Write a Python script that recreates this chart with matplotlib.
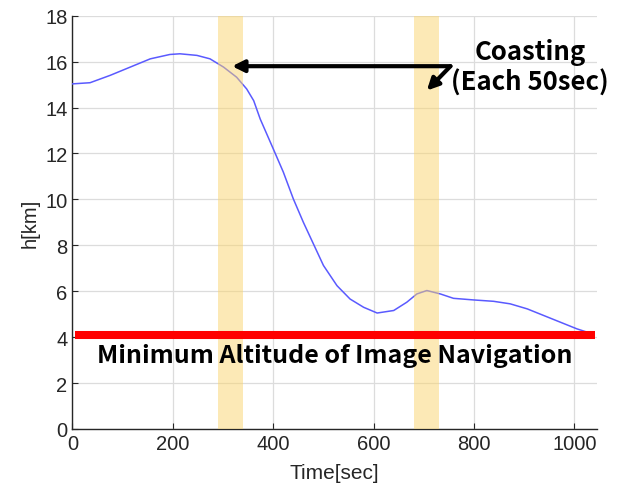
import matplotlib
matplotlib.use("Agg")
import matplotlib.pyplot as plt

# Altitude profile
time_sec = [0, 35, 75, 115, 155, 194, 214, 248, 274, 301, 327, 347, 361,
            374, 400, 420, 440, 460, 480, 500, 527, 553, 580, 607, 640, 666,
            686, 706, 733, 759, 799, 839, 872, 906, 939, 972, 1005, 1022]
h_km = [15.03, 15.08, 15.4, 15.76, 16.12, 16.31, 16.34, 16.27, 16.12, 15.76,
        15.32, 14.81, 14.3, 13.5, 12.2, 11.19, 10.02, 9.0, 8.06, 7.12, 6.24,
        5.66, 5.3, 5.05, 5.16, 5.52, 5.88, 6.03, 5.88, 5.69, 5.62, 5.56,
        5.45, 5.23, 4.94, 4.65, 4.36, 4.24]

coast_windows = [(290, 340), (680, 730)]
min_altitude = 4.1
xticks = [0, 200, 400, 600, 800, 1000]
yticks = [0, 2, 4, 6, 8, 10, 12, 14, 16, 18]

tick_font = ['Liberation Sans', 'DejaVu Sans']
note_font = ['Noto Sans CJK JP', 'DejaVu Sans']
dark = '#262626'

fig = plt.figure(figsize=(6.21, 4.89), dpi=100)
ax = fig.add_axes([0.1167, 0.1207, 0.8447, 0.8452])

ax.plot(time_sec, h_km, color='#5a5aff', lw=1.1, zorder=3)

# coasting windows, drawn over the line with alpha
for t0, t1 in coast_windows:
    ax.axvspan(t0, t1, color='#fbd56e', alpha=0.5, lw=0, zorder=4)

ax.hlines(min_altitude, 5, 1040, color='red', lw=5.8, zorder=5)
ax.text(523, 2.9, 'Minimum Altitude of Image Navigation', ha='center',
        va='baseline', fontsize=18, fontweight='bold', family=note_font,
        color='black', zorder=6)

# coasting annotation
ax.text(912, 16.12, 'Coasting', ha='center', va='baseline', fontsize=18.5,
        fontweight='bold', family=note_font, clip_on=False, zorder=6)
ax.text(912, 14.78, '(Each 50sec)', ha='center', va='baseline', fontsize=18.5,
        fontweight='bold', family=note_font, clip_on=False, zorder=6)
arrow = dict(arrowstyle='-|>,head_length=0.7,head_width=0.35', lw=3,
             color='black', shrinkA=0, shrinkB=0)
ax.annotate('', xy=(318, 15.8), xytext=(753, 15.8), arrowprops=arrow, zorder=6)
ax.annotate('', xy=(706, 14.74), xytext=(753, 15.8), arrowprops=arrow, zorder=6)

ax.set_xlim(0, 1045)
ax.set_ylim(0, 18)
ax.set_xticks(xticks)
ax.set_yticks(yticks)
ax.grid(True, color='#dcdcdc', lw=0.9, zorder=0)
ax.set_axisbelow(True)
for s in ['top', 'right']:
    ax.spines[s].set_visible(False)
for s in ['left', 'bottom']:
    ax.spines[s].set_color(dark)
    ax.spines[s].set_linewidth(1.0)
ax.tick_params(direction='in', length=4, color=dark, labelcolor=dark,
               labelsize=14.5)
for lab in ax.get_xticklabels() + ax.get_yticklabels():
    lab.set_family(tick_font)

ax.set_xlabel('Time[sec]', fontsize=15, color=dark, family=tick_font,
              labelpad=7)
ax.set_ylabel('h[km]', fontsize=14.5, color=dark, family=tick_font,
              labelpad=4)

fig.savefig('out.png', dpi=100)
